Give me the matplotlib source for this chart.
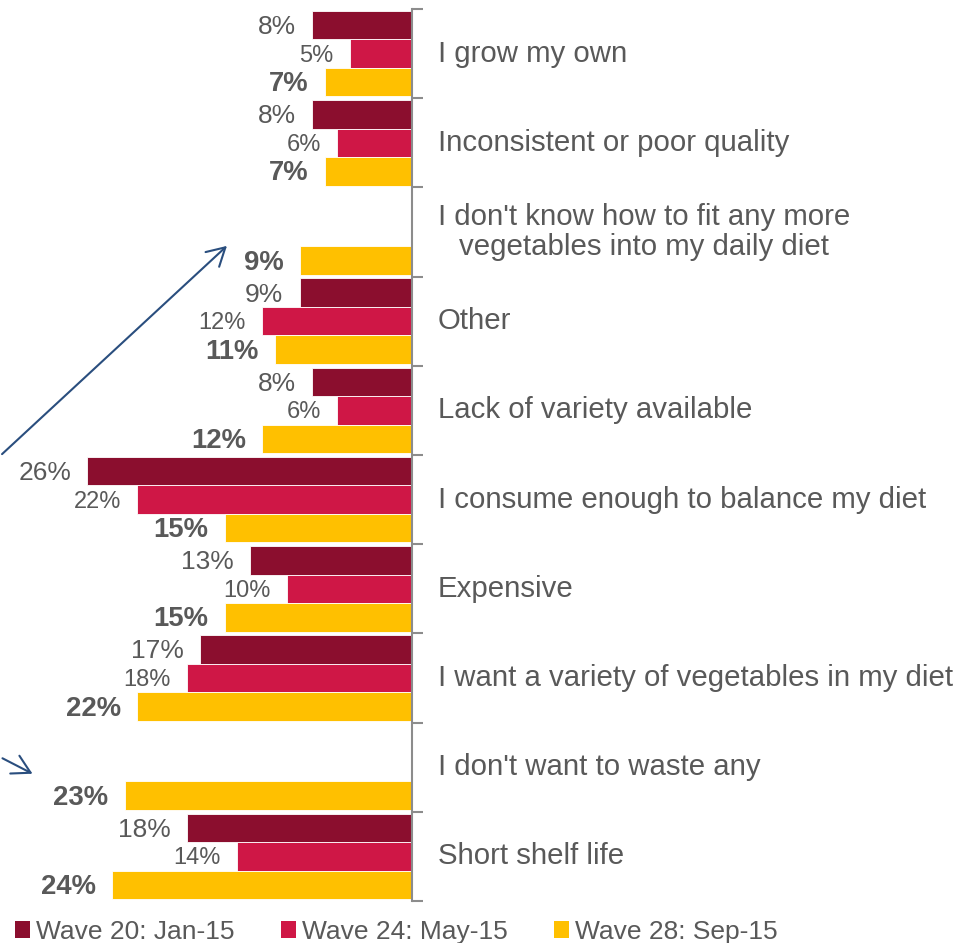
import matplotlib
matplotlib.use("Agg")
import matplotlib.pyplot as plt
import numpy as np
from matplotlib.patches import FancyArrowPatch, Patch

plt.rcParams["font.family"] = ["Liberation Sans", "DejaVu Sans"]

GREY = "#595959"
DARK = "#8B0E2E"
CRIMSON = "#CF1746"
YELLOW = "#FFC000"
ARROW = "#2A4E7E"

categories = [
    "I grow my own",
    "Inconsistent or poor quality",
    "I don't know how to fit any more\nvegetables into my daily diet",
    "Other",
    "Lack of variety available",
    "I consume enough to balance my diet",
    "Expensive",
    "I want a variety of vegetables in my diet",
    "I don't want to waste any",
    "Short shelf life",
]
wave20 = [8, 8, None, 9, 8, 26, 13, 17, None, 18]
wave24 = [5, 6, None, 12, 6, 22, 10, 18, None, 14]
wave28 = [7, 7, 9, 11, 12, 15, 15, 22, 23, 24]
series_names = ["Wave 20: Jan-15", "Wave 24: May-15", "Wave 28: Sep-15"]

W, H = 957, 943
fig = plt.figure(figsize=(W / 100, H / 100), dpi=100)
ax = fig.add_axes([0, 1 - 901 / H, 412 / W, 892 / H])

n = len(categories)
h = 0.32
series = [
    (wave20, DARK, -h, dict(fontsize=19, fontweight="normal")),
    (wave24, CRIMSON, 0, dict(fontsize=17, fontweight="normal")),
    (wave28, YELLOW, h, dict(fontsize=19.8, fontweight="bold")),
]
for vals, col, off, fnt in series:
    for i, v in enumerate(vals):
        if v is None:
            continue
        y = i + off
        ax.barh(y, v, height=h, color=col, edgecolor="white", linewidth=0.6)
        ax.annotate(f"{v}%", (v, y), xytext=(-16, -2), textcoords="offset pixels",
                    ha="right", va="center", color=GREY, **fnt)

ax.set_xlim(412 / 12.5, 0)
ax.set_ylim(n - 0.5, -0.5)
for s in ["left", "top", "bottom"]:
    ax.spines[s].set_visible(False)
ax.spines["right"].set_color("#8C8C8C")
ax.spines["right"].set_linewidth(1.5)
ax.set_xticks([])
ax.yaxis.tick_right()
ax.set_yticks(np.arange(n + 1) - 0.5)
ax.set_yticklabels([])
ax.tick_params(axis="y", direction="out", length=8, width=1.5, color="#8C8C8C")

for i, c in enumerate(categories):
    ax.annotate(c, (0, i), xytext=(26, 0), textcoords="offset pixels",
                ha="left", va="center", multialignment="center",
                fontsize=21.2, color=GREY, linespacing=1.1, annotation_clip=False)

# trend arrows
def px(x, y):
    return (x / W, 1 - y / H)

for (x0, y0), (x1, y1) in [((0, 456), (229, 244)), ((0, 757), (35, 775))]:
    fig.add_artist(FancyArrowPatch(px(x0, y0), px(x1, y1), transform=fig.transFigure,
                                   arrowstyle="->,head_length=8,head_width=4.5",
                                   color=ARROW, lw=1.5, mutation_scale=1.6))

handles = [Patch(facecolor=c) for c in (DARK, CRIMSON, YELLOW)]
fig.legend(handles, series_names, loc="lower left", bbox_to_anchor=(0.005, -0.012),
           ncol=3, frameon=False, fontsize=19, labelcolor=GREY,
           handlelength=0.55, handleheight=0.6, handletextpad=0.25, columnspacing=1.75,
           borderaxespad=0)

fig.savefig("out.png", dpi=100)
